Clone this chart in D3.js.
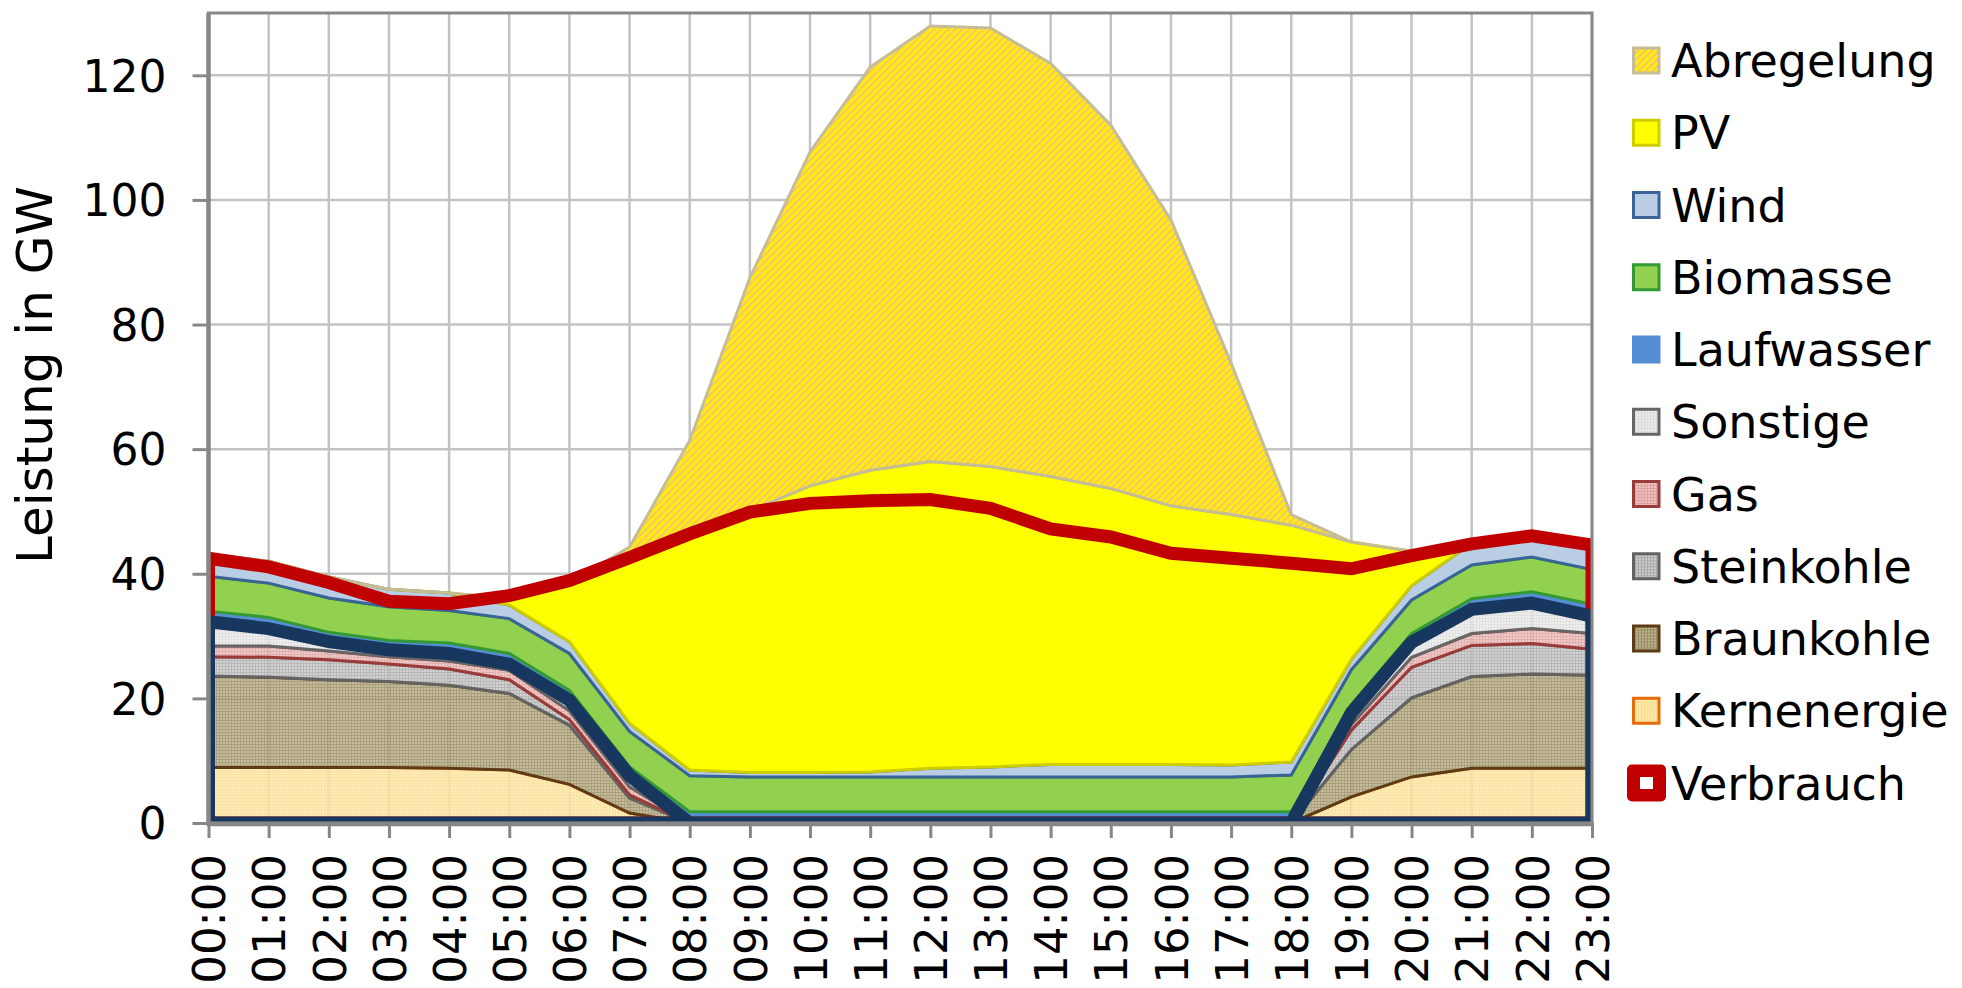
<!DOCTYPE html>
<meta charset="utf-8">
<style>
body { margin: 0; background: #fff; }
text { font-family: "DejaVu Sans", Verdana, sans-serif; fill: #000; }
</style>
<script src="https://cdn.jsdelivr.net/npm/d3@7"></script>
<body>
<script>

// hours on the x axis
var hours = ["00:00","01:00","02:00","03:00","04:00","05:00","06:00","07:00","08:00","09:00","10:00","11:00",
             "12:00","13:00","14:00","15:00","16:00","17:00","18:00","19:00","20:00","21:00","22:00","23:00"];

// generation in GW, stacked from the bottom
var kernenergie = [8.9,8.9,8.9,8.9,8.8,8.5,6.2,1.6,0,0,0,0,0,0,0,0,0,0,0,4.2,7.4,8.8,8.8,8.8];
var braunkohle  = [14.7,14.5,14.1,13.8,13.3,12.3,9.5,2.4,0,0,0,0,0,0,0,0,0,0,0,7.6,12.7,14.7,15.1,14.9];
var steinkohle  = [3.1,3.2,3.2,2.8,2.6,2.2,0.9,0.5,0,0,0,0,0,0,0,0,0,0,0,3.1,4.9,5.0,4.9,4.2];
var gas         = [1.7,1.8,1.4,1.2,1.3,1.5,1.4,1.3,0,0,0,0,0,0,0,0,0,0,0,0.9,1.6,1.9,2.4,2.5];
var sonstige    = [3.9,2.8,1.5,1.1,1.2,1.0,1.7,1.8,0,0,0,0,0,0,0,0,0,0,0,1.9,2.4,3.9,4.1,2.8];
var laufwasser  = [1.7,1.8,1.5,1.5,1.7,1.7,1.6,1.4,1.8,1.8,1.8,1.8,1.8,1.8,1.8,1.8,1.8,1.8,1.8,1.3,1.4,1.7,1.8,1.9];
var biomasse    = [5.6,5.5,5.5,5.4,5.2,5.6,5.9,5.7,5.8,5.6,5.6,5.6,5.6,5.6,5.6,5.6,5.6,5.6,5.9,5.6,5.4,5.4,5.6,5.6];
var wind        = [3.5,3.5,3.4,2.8,2.8,2.2,1.9,1.3,0.9,0.7,0.7,0.8,1.4,1.6,2.0,2.0,2.0,1.9,2.1,1.7,2.3,3.5,3.4,3.5];
var pv          = [0,0,0,0,0,1.0,9.4,27.0,38.5,42.0,46.0,48.4,49.2,48.2,46.2,44.3,41.5,40.2,38.0,18.8,5.5,0,0,0];
var abregelung  = [0,0,0,0,0,0,0,1.3,14.4,37.4,53.6,64.7,69.9,70.4,66.3,58.3,45.9,24.3,1.7,0,0,0,0,0];

// demand line
var verbrauch = [42.5,41.1,38.6,35.6,35.2,36.5,38.9,42.6,46.4,49.9,51.3,51.7,51.9,50.5,47.2,45.9,43.3,42.5,41.7,40.8,42.9,44.8,46.1,44.6];

var yTicks = [0,20,40,60,80,100,120];

var keys = ["Kernenergie","Braunkohle","Steinkohle","Gas","Sonstige","Laufwasser","Biomasse","Wind","PV","Abregelung"];
var values = {Kernenergie: kernenergie, Braunkohle: braunkohle, Steinkohle: steinkohle, Gas: gas, Sonstige: sonstige,
              Laufwasser: laufwasser, Biomasse: biomasse, Wind: wind, PV: pv, Abregelung: abregelung};

var fill = {Kernenergie: "url(#p-kern)", Braunkohle: "url(#p-braun)", Steinkohle: "url(#p-stein)", Gas: "url(#p-gas)",
            Sonstige: "url(#p-sonst)", Laufwasser: "#558ED5", Biomasse: "#92D050", Wind: "#B9CDE5", PV: "#FFFF00",
            Abregelung: "url(#p-abr)"};
var stroke = {Kernenergie: "#E46C0A", Braunkohle: "#5F3A16", Steinkohle: "#636363", Gas: "#9B3B39", Sonstige: "#666666",
              Laufwasser: "#558ED5", Biomasse: "#339933", Wind: "#3A6496", PV: "#CDCD00", Abregelung: "#C4BD97"};
var seeThrough = {Kernenergie: 1, Braunkohle: 1, Steinkohle: 1, Gas: 1, Sonstige: 1};

var rows = hours.map(function(h, i) {
  var r = {hour: h};
  keys.forEach(function(k) { r[k] = values[k][i]; });
  return r;
});

var width = 1962, height = 988;
var plotL = 208.5, plotR = 1592, plotT = 13, plotB = 823;

var svg = d3.select("body").append("svg")
    .attr("width", width)
    .attr("height", height);

var x = d3.scalePoint().domain(hours).range([plotL, plotR]);
var y = d3.scaleLinear().domain([0, 130]).range([plotB, plotT]);

// patterns
var defs = svg.append("defs");
function gridPattern(id, bg, fg) {
  var p = defs.append("pattern").attr("id", id).attr("patternUnits", "userSpaceOnUse")
      .attr("width", 3).attr("height", 3);
  p.append("rect").attr("width", 3).attr("height", 3).attr("fill", bg);
  p.append("path").attr("d", "M0,0.5H3M0.5,0V3").attr("stroke", fg).attr("stroke-width", 1);
}
gridPattern("p-kern", "#FFE9A8", "#F8DE98");
gridPattern("p-braun", "#BDB28B", "#998E66");
gridPattern("p-stein", "#CBCBCB", "#ABABAB");
gridPattern("p-gas", "#EFC0BF", "#DCA3A2");
gridPattern("p-sonst", "#ECECEC", "#DCDCDC");

var abr = defs.append("pattern").attr("id", "p-abr").attr("patternUnits", "userSpaceOnUse")
    .attr("width", 5).attr("height", 5).attr("patternTransform", "rotate(45)");
abr.append("rect").attr("width", 5).attr("height", 5).attr("fill", "#FFF200");
abr.append("rect").attr("width", 2.3).attr("height", 5).attr("fill", "#F9C56A");

defs.append("clipPath").attr("id", "plot")
  .append("rect").attr("x", plotL).attr("y", plotT).attr("width", plotR - plotL).attr("height", plotB - plotT);

// gridlines
svg.append("g").selectAll("line").data(hours).enter().append("line")
    .attr("x1", function(d) { return x(d); }).attr("x2", function(d) { return x(d); })
    .attr("y1", plotT).attr("y2", plotB)
    .attr("stroke", "#C3C3C3").attr("stroke-width", 2.5);
svg.append("g").selectAll("line").data(yTicks.slice(1)).enter().append("line")
    .attr("x1", plotL).attr("x2", plotR)
    .attr("y1", function(d) { return y(d); }).attr("y2", function(d) { return y(d); })
    .attr("stroke", "#C3C3C3").attr("stroke-width", 2.5);

var plot = svg.append("g").attr("clip-path", "url(#plot)");

var stack = d3.stack().keys(keys);
var area = d3.area()
    .x(function(d) { return x(d.data.hour); })
    .y0(function(d) { return y(d[0]); })
    .y1(function(d) { return y(d[1]); });

plot.selectAll(".layer").data(stack(rows)).enter().append("path")
    .attr("class", "layer")
    .attr("d", area)
    .attr("fill", function(d) { return fill[d.key]; })
    .attr("fill-opacity", function(d) { return seeThrough[d.key] ? 0.85 : 1; })
    .attr("stroke", function(d) { return stroke[d.key]; })
    .attr("stroke-width", 3);

// Verbrauch outline (red), then conventional total outline (navy)
var outline = d3.area()
    .x(function(d, i) { return x(hours[i]); })
    .y0(y(0))
    .y1(function(d) { return y(d); });

plot.append("path")
    .attr("d", outline(verbrauch))
    .attr("fill", "none")
    .attr("stroke", "#C00000")
    .attr("stroke-width", 13);

var konventionell = hours.map(function(h, i) {
  return kernenergie[i] + braunkohle[i] + steinkohle[i] + gas[i] + sonstige[i];
});
plot.append("path")
    .attr("d", outline(konventionell))
    .attr("fill", "none")
    .attr("stroke", "#17375E")
    .attr("stroke-width", 13);

// plot border
svg.append("rect")
    .attr("x", plotL).attr("y", plotT).attr("width", plotR - plotL).attr("height", plotB - plotT)
    .attr("fill", "none").attr("stroke", "#878787").attr("stroke-width", 3);

// axes
var yAxis = svg.append("g")
    .attr("transform", "translate(" + plotL + ",0)")
    .call(d3.axisLeft(y).tickValues(yTicks).tickSize(16).tickPadding(26).tickSizeOuter(0));
yAxis.select(".domain").remove();
yAxis.selectAll(".tick line").attr("stroke", "#878787").attr("stroke-width", 3);
yAxis.selectAll(".tick text").attr("font-size", 44).attr("font-family", "DejaVu Sans").attr("dy", "0.36em");

var xAxis = svg.append("g")
    .attr("transform", "translate(0," + plotB + ")")
    .call(d3.axisBottom(x).tickSize(15).tickSizeOuter(0));
xAxis.select(".domain").remove();
xAxis.selectAll(".tick line").attr("stroke", "#878787").attr("stroke-width", 3);
xAxis.selectAll(".tick text")
    .attr("font-size", 45)
    .attr("font-family", "DejaVu Sans")
    .attr("transform", "rotate(-90)")
    .attr("text-anchor", "end")
    .attr("x", -31)
    .attr("y", 0)
    .attr("dy", "0.36em");

svg.append("line").attr("x1", plotL).attr("x2", plotL).attr("y1", plotT).attr("y2", plotB + 2)
    .attr("stroke", "#878787").attr("stroke-width", 4.5);
svg.append("line").attr("x1", plotL - 2).attr("x2", plotR + 1.5).attr("y1", plotB + 1).attr("y2", plotB + 1)
    .attr("stroke", "#878787").attr("stroke-width", 4.5);

svg.append("text")
    .attr("transform", "translate(52,375) rotate(-90)")
    .attr("text-anchor", "middle")
    .attr("font-size", 50)
    .text("Leistung in GW");

// legend
var legendKeys = keys.slice().reverse().concat(["Verbrauch"]);
var legend = svg.append("g").selectAll("g").data(legendKeys).enter().append("g")
    .attr("transform", function(d, i) { return "translate(0," + (60.5 + i * 72.25) + ")"; });

legend.each(function(d) {
  var g = d3.select(this);
  if (d === "Verbrauch") {
    g.append("rect").attr("x", 1627).attr("y", -18.5).attr("width", 39).attr("height", 37).attr("rx", 5)
        .attr("fill", "#C00000");
    g.append("rect").attr("x", 1640).attr("y", -6).attr("width", 13).attr("height", 12).attr("fill", "#fff");
  } else {
    g.append("rect").attr("x", 1633.5).attr("y", -12.5).attr("width", 25.5).attr("height", 25)
        .attr("fill", fill[d]).attr("stroke", stroke[d]).attr("stroke-width", 3);
  }
  g.append("text").attr("x", 1671).attr("dy", "0.36em").attr("font-size", 46).text(d);
});

</script>
